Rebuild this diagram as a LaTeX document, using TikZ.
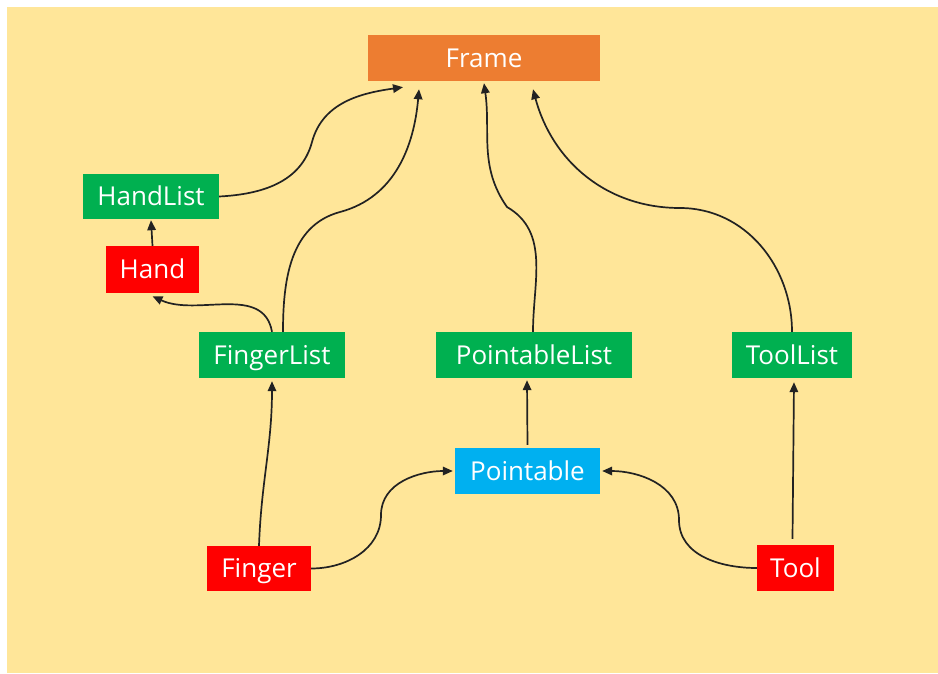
\documentclass[tikz,border=0pt]{standalone}
\usepackage{fontspec}
\setmainfont{Open Sans}
\usetikzlibrary{arrows.meta,calc}
\definecolor{bgyellow}{HTML}{FFE699}
\definecolor{frameorange}{HTML}{ED7D31}
\definecolor{listgreen}{HTML}{00B050}
\definecolor{itemred}{HTML}{FF0000}
\definecolor{ptblue}{HTML}{00B0F0}
\definecolor{linkgray}{HTML}{222222}
\begin{document}
\begin{tikzpicture}[x=1pt,y=-1pt,
  cls/.style={inner sep=0pt, text=white, font=\fontsize{26}{29}\selectfont,
    text height=18.5pt, text depth=0pt, anchor=center},
  listbox/.style={cls, fill=listgreen},
  itembox/.style={cls, fill=itemred},
  link/.style={draw=linkgray, line width=1.7pt, -{Triangle[length=10pt,width=8.5pt]}}]
% canvas and background
\useasboundingbox (0,0) rectangle (938,673);
\fill[white] (0,0) rectangle (938,673);
\fill[bgyellow] (7,7) rectangle (938,673);

% class boxes
\node[cls, fill=frameorange, minimum width=232pt, minimum height=46pt] (frame) at (484,58) {Frame};
\node[listbox, minimum width=136pt, minimum height=45pt] (handlist) at (151,196.5) {HandList};
\node[itembox, minimum width=93pt, minimum height=47pt] (hand) at (152.5,269.5) {Hand};
\node[listbox, minimum width=146pt, minimum height=46pt] (fingerlist) at (272,355) {FingerList};
\node[listbox, minimum width=196pt, minimum height=46pt] (pointablelist) at (534,355) {PointableList};
\node[listbox, minimum width=120pt, minimum height=46pt] (toollist) at (792,355) {ToolList};
\node[cls, fill=ptblue, minimum width=145pt, minimum height=46pt] (pointable) at (527.5,471) {Pointable};
\node[itembox, minimum width=104pt, minimum height=45pt] (finger) at (259,568.5) {Finger};
\node[itembox, minimum width=77pt, minimum height=46pt] (tool) at (795.5,568) {Tool};

% connectors
\draw[link] (handlist.east) to[out=3,in=-105] (312,142) to[out=75,in=188] ([xshift=-81pt,yshift=-6pt]frame.south);
\draw[link] ([xshift=11pt]fingerlist.north) to[out=90,in=-165] (340,212) to[out=15,in=-95] ([xshift=-65pt,yshift=-8pt]frame.south);
\draw[link] (fingerlist.north) to[out=100,in=-25] ([yshift=-3pt]hand.south);
\draw[link] ([xshift=-1pt]pointablelist.north) to[out=90,in=-30] (507,207) to[out=125,in=-82] ([yshift=-2pt]frame.south);
\draw[link] (toollist.north) to[out=90,in=0] (680,208) to[out=180,in=-75] ([xshift=49pt,yshift=-8pt]frame.south);
\draw[link] (finger.north) to[out=88,in=-90] ([yshift=-3pt]fingerlist.south);
\draw[link] (finger.east) to[out=0,in=-90] (381,515) to[out=90,in=180] ([xshift=-2pt]pointable.west);
\draw[link] (tool.west) to[out=180,in=-90] (679,520) to[out=90,in=0] ([xshift=2pt]pointable.east);
\draw[link] ([xshift=-3pt,yshift=6pt]tool.north) -- ([xshift=2pt,yshift=-4pt]toollist.south);
\draw[link] ([yshift=3pt]pointable.north) -- ([xshift=-7pt,yshift=-2pt]pointablelist.south);
\draw[link] (hand.north) -- ([yshift=-1pt]handlist.south);
\end{tikzpicture}
\end{document}
